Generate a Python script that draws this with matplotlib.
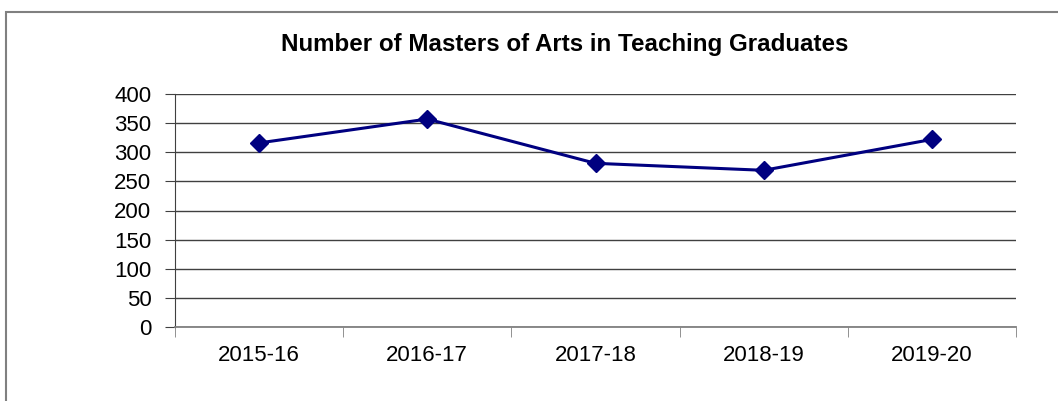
import numpy as np
import matplotlib.pyplot as plt
from matplotlib.patches import Rectangle

years = ['2015-16', '2016-17', '2017-18', '2018-19', '2019-20']
graduates = [316, 357, 281, 269, 322]

plt.rcParams['font.family'] = ['Liberation Sans', 'DejaVu Sans']

fig = plt.figure(figsize=(10.58, 4.01), dpi=100)
# left axes: x 175..1016, y 94..327 px
ax = fig.add_axes([175 / 1058, 1 - 327 / 401, (1016 - 175) / 1058, (327 - 94) / 401])

# chart frame (only top and left visible in the picture)
fig.patches.append(Rectangle((6 / 1058, -0.1), 1.2, 1.1 - 12 / 401,
                             transform=fig.transFigure, fill=False,
                             edgecolor='#808080', linewidth=1.5))

x = np.arange(len(years))
ax.plot(x, graduates, color='#000080', linewidth=2.2, marker='D', markersize=9)

ax.set_xlim(-0.5, len(years) - 0.5)
ax.set_ylim(0, 400)
ax.set_yticks(np.arange(0, 401, 50))
ax.yaxis.grid(True, color='#404040', linewidth=1)
ax.set_axisbelow(True)

ax.set_xticks(x)
ax.set_xticklabels(years)
ax.set_xticks(np.arange(-0.5, len(years), 1), minor=True)
ax.tick_params(axis='x', which='major', length=0, pad=13, labelsize=16)
ax.tick_params(axis='x', which='minor', length=7, color='#808080')
ax.tick_params(axis='y', length=7, labelsize=16, pad=10, color='#404040')

for side in ['top', 'right']:
    ax.spines[side].set_visible(False)
ax.spines['left'].set_color('#404040')
ax.spines['bottom'].set_color('#808080')
ax.spines['bottom'].set_linewidth(1.3)

fig.text(565 / 1058, 1 - 45 / 401, 'Number of Masters of Arts in Teaching Graduates',
         ha='center', va='center', fontsize=17.4, fontweight='bold')

fig.savefig('out.png', dpi=100)
